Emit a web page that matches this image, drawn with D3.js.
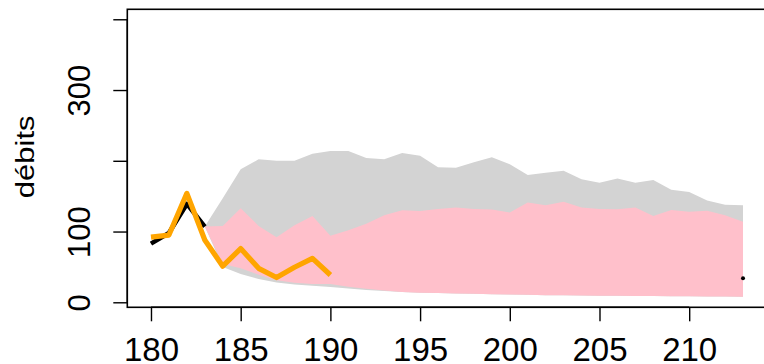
<!DOCTYPE html>
<html>
<head>
<meta charset="utf-8">
<script src="https://cdn.jsdelivr.net/npm/d3@7"></script>
<style>
  html, body { margin: 0; padding: 0; background: #fff; }
  svg { display: block; }
  text { font-family: "Liberation Sans", Arial, Helvetica, sans-serif; fill: #000; }
</style>
</head>
<body>
<svg id="chart" width="764" height="364"></svg>
<script>
// ---- data ----
const obsYears = [180, 181, 182, 183];
const obsValues = [83, 98, 139, 107];
const lastObsYear = [213];
const lastObsValue = [34];

const simYears = [180, 181, 182, 183, 184, 185, 186, 187, 188, 189, 190];
const simValues = [92, 95, 154, 88, 51, 76, 48, 35, 49.5, 62, 38.6];

const bandYears = [183, 184, 185, 186, 187, 188, 189, 190, 191, 192, 193, 194, 195, 196, 197, 198,
  199, 200, 201, 202, 203, 204, 205, 206, 207, 208, 209, 210, 211, 212, 213];
const greyUpper = [107, 147, 188, 202, 200, 200, 210, 214, 214, 204, 202, 211, 207, 191, 190, 198,
  205, 195, 180, 183, 186, 174, 169, 175, 169, 173, 159, 156, 144, 138, 137];
const greyLower = [107, 50, 40, 33, 28, 25, 23.5, 21.5, 19.5, 17.5, 16, 14.5, 13.5, 13, 12.5, 12,
  11.5, 11, 10.5, 10, 9.8, 9.6, 9.4, 9.2, 9, 8.8, 8.6, 8.4, 8.2, 8.1, 8];
const pinkUpper = [107, 108, 133, 108, 92, 109, 122, 94, 102, 111, 123, 130, 129, 132, 134, 132,
  131, 127, 141, 137, 142, 134, 132, 131.5, 134, 122, 130.5, 128, 129.5, 123, 114];
const pinkLower = [107, 54, 48, 39, 31, 27.5, 26, 26, 22, 19, 16.5, 14.5, 13.5, 13, 12.5, 12,
  11.5, 11, 10.5, 10, 9.8, 9.6, 9.4, 9.2, 9, 8.8, 8.6, 8.4, 8.2, 8.1, 8];

const xTicks = [180, 185, 190, 195, 200, 205, 210];
const yTicks = [0, 100, 200, 300, 400];
const yTickLabels = ["0", "100", "", "300", ""];
const yTitle = "débits";

// ---- layout ----
const svg = d3.select("#chart");
const plotL = 127.3, plotR = 766.7, plotT = 9.3, plotB = 307.3;
const x = d3.scaleLinear().domain([178.68, 214.32]).range([plotL, plotR]);
const y = d3.scaleLinear().domain([-7.07, 414.1]).range([plotB, plotT]);

svg.append("clipPath").attr("id", "clip")
  .append("rect").attr("x", plotL).attr("y", plotT)
  .attr("width", plotR - plotL).attr("height", plotB - plotT);

const g = svg.append("g").attr("clip-path", "url(#clip)");

const band = (up, lo) => d3.area()
  .x((d, i) => x(bandYears[i]))
  .y0((d, i) => y(lo[i]))
  .y1((d, i) => y(up[i]));

g.append("path").datum(bandYears)
  .attr("d", band(greyUpper, greyLower))
  .attr("fill", "#d3d3d3");
g.append("path").datum(bandYears)
  .attr("d", band(pinkUpper, pinkLower))
  .attr("fill", "#ffc0cb");

const line = d3.line().x(d => x(d[0])).y(d => y(d[1]));

g.append("path").datum(obsYears.map((t, i) => [t, obsValues[i]]))
  .attr("d", line).attr("fill", "none").attr("stroke", "#000")
  .attr("stroke-width", 4.5).attr("stroke-linejoin", "round");
g.selectAll("circle.obs").data(lastObsYear.map((t, i) => [t, lastObsValue[i]]))
  .join("circle").attr("class", "obs")
  .attr("cx", d => x(d[0])).attr("cy", d => y(d[1])).attr("r", 2).attr("fill", "#000");

g.append("path").datum(simYears.map((t, i) => [t, simValues[i]]))
  .attr("d", line).attr("fill", "none").attr("stroke", "#ffa500")
  .attr("stroke-width", 5.2).attr("stroke-linejoin", "round");

// box
svg.append("rect").attr("x", plotL).attr("y", plotT)
  .attr("width", plotR - plotL).attr("height", plotB - plotT)
  .attr("fill", "none").attr("stroke", "#000").attr("stroke-width", 1.6);

// x axis
const xa = svg.append("g").attr("transform", `translate(0,${plotB})`)
  .call(d3.axisBottom(x).tickValues(xTicks).tickSize(14).tickSizeOuter(0).tickFormat(d3.format("d")));
xa.select(".domain").attr("d", `M${x(xTicks[0])},0H${x(xTicks[xTicks.length - 1])}`)
  .attr("stroke", "#000").attr("stroke-width", 1.4);
xa.selectAll(".tick line").attr("stroke", "#000").attr("stroke-width", 1.4);
xa.selectAll(".tick text").attr("y", 53.5).attr("dy", null)
  .style("font-size", "33px").style("font-family", "'Liberation Sans', Arial, sans-serif");

// y axis
const ya = svg.append("g").attr("transform", `translate(${plotL},0)`)
  .call(d3.axisLeft(y).tickValues(yTicks).tickSize(14).tickSizeOuter(0)
    .tickFormat((d, i) => yTickLabels[i]));
ya.select(".domain").attr("d", `M0,${y(yTicks[0])}V${y(yTicks[yTicks.length - 1])}`)
  .attr("stroke", "#000").attr("stroke-width", 1.4);
ya.selectAll(".tick line").attr("stroke", "#000").attr("stroke-width", 1.4);
ya.selectAll(".tick text")
  .attr("x", null).attr("dy", null)
  .attr("text-anchor", "middle")
  .attr("transform", "translate(-37.5,0) rotate(-90)")
  .style("font-size", "31px").style("font-family", "'Liberation Sans', Arial, sans-serif");

// y title
svg.append("text")
  .attr("transform", `translate(34,${(plotT + plotB) / 2 - 1.5}) rotate(-90) scale(1,0.85)`)
  .attr("text-anchor", "middle")
  .style("font-size", "31px")
  .text(yTitle);
</script>
</body>
</html>
